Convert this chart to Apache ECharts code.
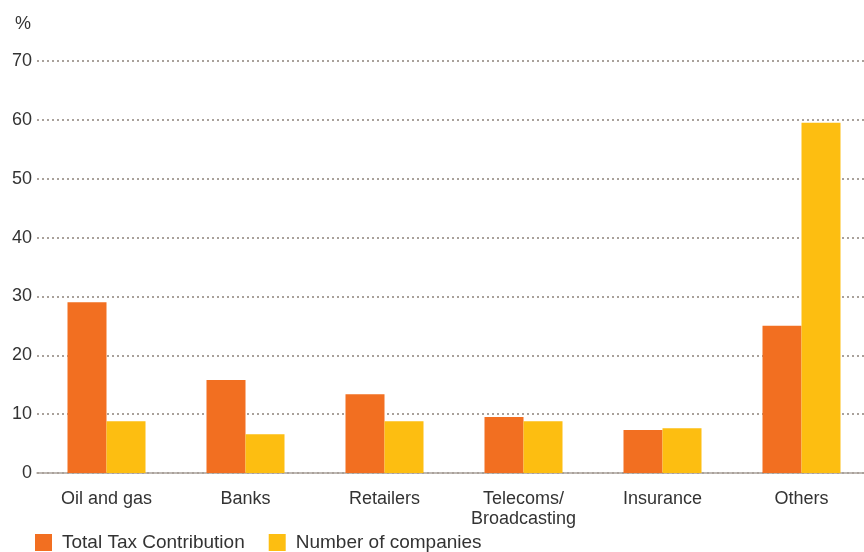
<!DOCTYPE html>
<html>
<head>
<meta charset="utf-8">
<script src="https://cdn.jsdelivr.net/npm/echarts@6/dist/echarts.min.js"></script>
<style>
  html, body { margin: 0; padding: 0; background: #fff; overflow: hidden; }
  /* a bit wider than the window: the plot runs past the right edge, as in the source */
  #main { width: 871px; height: 552px; }
</style>
</head>
<body>
<div id="main"></div>
<script>
const categories = ['Oil and gas', 'Banks', 'Retailers', 'Telecoms/\nBroadcasting', 'Insurance', 'Others'];
const taxContribution = [29, 15.8, 13.4, 9.5, 7.3, 25];
const numberOfCompanies = [8.8, 6.6, 8.8, 8.8, 7.6, 59.5];
const yTicks = [0, 10, 20, 30, 40, 50, 60, 70];

const chart = echarts.init(document.getElementById('main'));
const font = 'Liberation Sans, Arial, sans-serif';

const option = {
  backgroundColor: '#fff',
  animation: false,
  color: ['#F26F21', '#FDBE11'],
  grid: { left: 37, right: 0, top: 61, bottom: 79, containLabel: false },
  legend: {
    left: 35,
    top: 533,
    padding: 0,
    itemWidth: 17,
    itemHeight: 17,
    itemGap: 24,
    icon: 'rect',
    textStyle: { fontFamily: font, fontSize: 19, color: '#333', padding: [0, 0, 0, 5] },
    data: ['Total Tax Contribution', 'Number of companies']
  },
  xAxis: {
    type: 'category',
    data: categories,
    axisTick: { show: false },
    axisLine: { lineStyle: { color: '#a9a19b', width: 1.5 } },
    axisLabel: { fontFamily: font, fontSize: 18, color: '#333', margin: 16, lineHeight: 20, interval: 0 }
  },
  yAxis: {
    type: 'value',
    min: yTicks[0],
    max: yTicks[yTicks.length - 1],
    interval: 10,
    name: '%',
    nameLocation: 'end',
    nameGap: 28,
    nameTextStyle: { fontFamily: font, fontSize: 18, color: '#333', align: 'right', padding: [0, 6, 0, 0] },
    axisLine: { show: false },
    axisTick: { show: false },
    axisLabel: { fontFamily: font, fontSize: 18, color: '#333', margin: 5 },
    splitLine: { lineStyle: { color: '#a9a19b', type: [2, 3], width: 2 } }
  },
  series: [
    {
      name: 'Total Tax Contribution',
      type: 'bar',
      data: taxContribution,
      barWidth: 39,
      barGap: 0
    },
    {
      name: 'Number of companies',
      type: 'bar',
      data: numberOfCompanies,
      barWidth: 39,
      barGap: 0
    }
  ]
};

chart.setOption(option);
</script>
</body>
</html>
